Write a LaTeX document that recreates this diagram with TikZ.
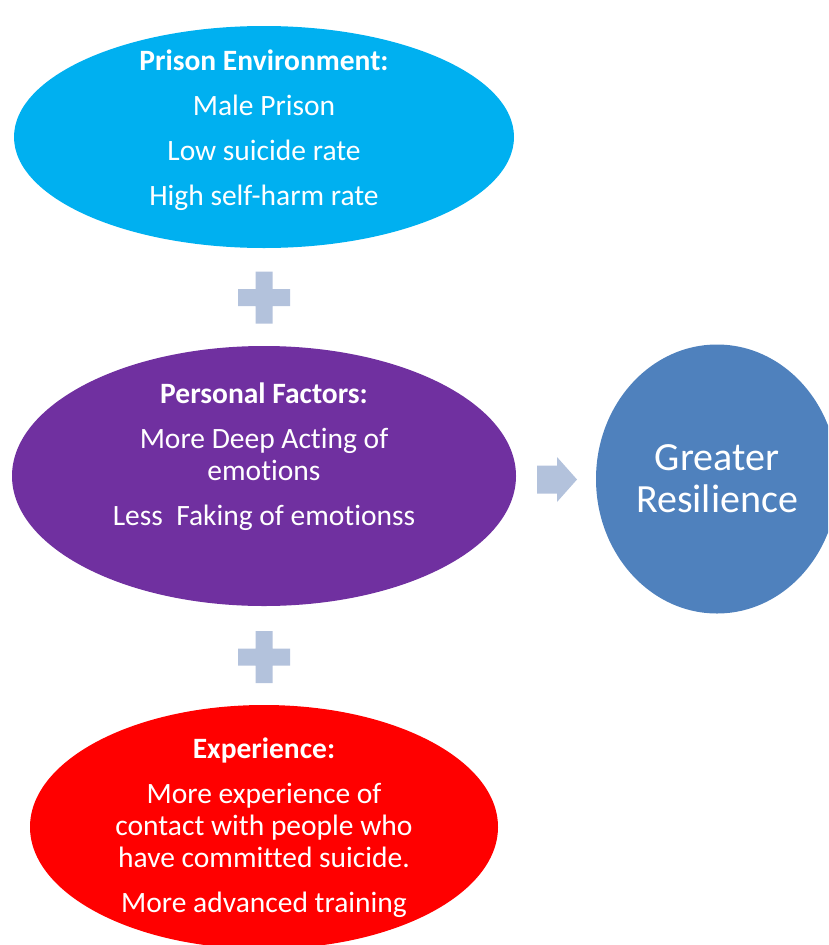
\documentclass[tikz,border=0pt]{standalone}
\usepackage{fontspec}
\setmainfont{Carlito}[Ligatures=NoCommon]
\usetikzlibrary{shapes.geometric}
\definecolor{cyanE}{RGB}{0,176,240}
\definecolor{purpE}{RGB}{112,48,160}
\definecolor{blueE}{RGB}{79,129,189}
\definecolor{redE}{RGB}{255,0,0}
\definecolor{plusC}{RGB}{179,194,220}
\begin{document}
\begin{tikzpicture}[x=1pt,y=-1pt,
  blob/.style={ellipse,inner sep=0pt,draw=none},
  txt/.style={text=white,align=center,inner sep=0pt,font=\fontsize{29.5}{32}\selectfont}]
\useasboundingbox (0,0) rectangle (828,945);
\clip (0,0) rectangle (828,945);
% ellipses
\node[blob,fill=cyanE,minimum width=500pt,minimum height=222pt] (env) at (264,137) {};
\node[blob,fill=purpE,minimum width=504pt,minimum height=260pt] (pers) at (264,476) {};
\node[blob,fill=redE,minimum width=468pt,minimum height=244pt] (exp) at (264,827) {};
\node[blob,fill=blueE,minimum width=242pt,minimum height=269pt] (res) at (717,479) {};
% texts
\node[txt] (envt) at (264,130.5) {{\bfseries Prison Environment:}\\[13pt]
  Male Prison\\[13pt] Low suicide rate\\[13pt] High self-harm rate};
\node[txt] (perst) at (264,457) {{\bfseries Personal Factors:}\\[13pt]
  More Deep Acting of\\ emotions\\[13pt] Less\ \ Faking of emotionss};
\node[txt] (expt) at (264,828) {{\bfseries Experience:}\\[13pt]
  More experience of\\ contact with people who\\ have committed suicide.\\[13pt] More advanced training};
\node[txt,font=\fontsize{40}{42}\selectfont] (rest) at (717,479) {Greater\\ Resilience};
% plus signs
\node[inner sep=0pt] (plus1) at (264,297.5) {};
\node[inner sep=0pt] (plus2) at (264,657) {};
\foreach \p in {plus1,plus2}{
  \fill[plusC] ([shift={(-8.5,-26)}]\p.center) -- ++(17,0) -- ++(0,17.5) -- ++(17.5,0) -- ++(0,17) -- ++(-17.5,0)
    -- ++(0,17.5) -- ++(-17,0) -- ++(0,-17.5) -- ++(-17.5,0) -- ++(0,-17) -- ++(17.5,0) -- cycle;
}
% arrow
\node[inner sep=0pt] (arr) at (557,479.5) {};
\fill[plusC] ([shift={(-20,-14)}]arr.center) -- ++(20,0) -- ++(0,-8.5) -- ++(20,22.5) -- ++(-20,22.5)
  -- ++(0,-8.5) -- ++(-20,0) -- cycle;
\end{tikzpicture}
\end{document}
